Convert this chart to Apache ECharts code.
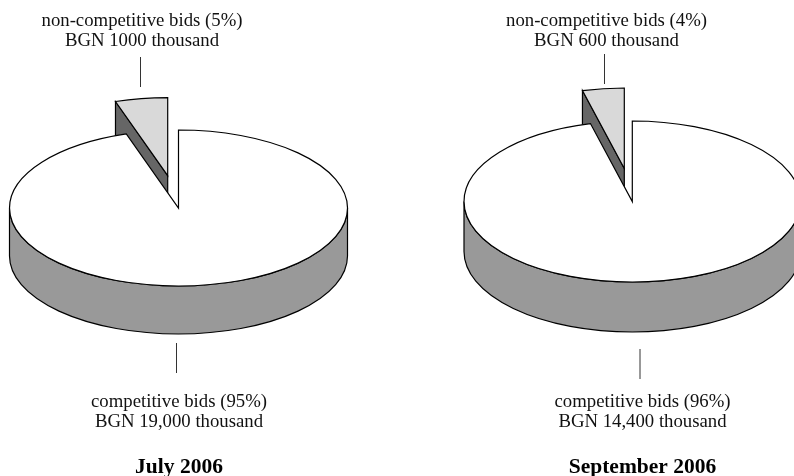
<!DOCTYPE html>
<html>
<head>
<meta charset="utf-8">
<style>html,body{margin:0;padding:0;background:#fff;overflow:hidden}#c{width:794px;height:476px}</style>
<script src="https://cdn.jsdelivr.net/npm/echarts@6/dist/echarts.min.js"></script>
</head>
<body>
<div id="c"></div>
<script>
const categories = ['non-competitive bids', 'competitive bids'];
const periods = ['July 2006', 'September 2006'];
const julyValues = [1000, 19000];
const septemberValues = [600, 14400];
const julyLabels = ['non-competitive bids (5%)\nBGN 1000 thousand', 'competitive bids (95%)\nBGN 19,000 thousand'];
const septemberLabels = ['non-competitive bids (4%)\nBGN 600 thousand', 'competitive bids (96%)\nBGN 14,400 thousand'];

const FONT = '"Liberation Serif", "Times New Roman", serif';
const pies = [
  {cx: 178.5, cy: 208, rx: 169, ry: 78, depth: 48, ox: -10.8, oy: -32.3,
   values: julyValues, labels: julyLabels, period: periods[0],
   topLabel: [142, 11], botLabel: [179, 392], titleAt: [179, 456.5],
   lines: [[140.5, 57, 87], [176.5, 343, 373]]},
  {cx: 632.3, cy: 201.5, rx: 168.3, ry: 80.5, depth: 50, ox: -8, oy: -33,
   values: septemberValues, labels: septemberLabels, period: periods[1],
   topLabel: [606.5, 11], botLabel: [642.5, 392], titleAt: [642.5, 456.5],
   lines: [[604.5, 54, 84], [640, 349, 379]]}
];

function rim(p, cx, cy, t) {
  return [cx + p.rx * Math.sin(t), cy - p.ry * Math.cos(t)];
}
function f(n) { return n.toFixed(2); }

function renderItem(params, api) {
  const p = pies[params.seriesIndex];
  const total = p.values.reduce((a, b) => a + b, 0);
  const isSmall = params.dataIndex === 0;
  const angle = api.value(1) / total * Math.PI * 2;
  const black = {stroke: '#000', lineWidth: 1.2, lineJoin: 'miter'};
  if (isSmall) {
    const cx = p.cx + p.ox, cy = p.cy + p.oy;
    const a = rim(p, cx, cy, -angle);
    const b = rim(p, cx, cy, 0);
    return {type: 'group', children: [
      {type: 'path', shape: {pathData:
        `M${f(a[0])} ${f(a[1])} L${f(cx)} ${f(cy)} L${f(cx)} ${f(cy + p.depth)} L${f(a[0])} ${f(a[1] + p.depth)} Z`},
       style: Object.assign({fill: '#666666'}, black)},
      {type: 'path', shape: {pathData:
        `M${f(cx)} ${f(cy)} L${f(a[0])} ${f(a[1])} A${p.rx} ${p.ry} 0 0 1 ${f(b[0])} ${f(b[1])} Z`},
       style: Object.assign({fill: '#d9d9d9'}, black)}
    ]};
  }
  const {cx, cy, rx, ry, depth} = p;
  const start = rim(p, cx, cy, 0);
  const end = rim(p, cx, cy, angle);
  return {type: 'group', children: [
    {type: 'path', shape: {pathData:
      `M${f(cx + rx)} ${f(cy)} A${rx} ${ry} 0 0 1 ${f(cx - rx)} ${f(cy)} L${f(cx - rx)} ${f(cy + depth)} A${rx} ${ry} 0 0 0 ${f(cx + rx)} ${f(cy + depth)} Z`},
     style: Object.assign({fill: '#999999'}, black)},
    {type: 'path', shape: {pathData:
      `M${f(cx)} ${f(cy)} L${f(start[0])} ${f(start[1])} A${rx} ${ry} 0 1 1 ${f(end[0])} ${f(end[1])} Z`},
     style: Object.assign({fill: '#ffffff'}, black)}
  ]};
}

const graphics = [];
pies.forEach(p => {
  p.lines.forEach(l => graphics.push({type: 'line', silent: true,
    shape: {x1: l[0], y1: l[1], x2: l[0], y2: l[2]}, style: {stroke: '#333', lineWidth: 1}}));
  [[p.topLabel, p.labels[0]], [p.botLabel, p.labels[1]]].forEach(([pos, text]) =>
    graphics.push({type: 'text', silent: true, x: pos[0], y: pos[1],
      style: {text, fill: '#111', font: '18.75px ' + FONT, textAlign: 'center', lineHeight: 20}}));
  graphics.push({type: 'text', silent: true, x: p.titleAt[0], y: p.titleAt[1],
    style: {text: p.period, fill: '#000', font: 'bold 21.5px ' + FONT, textAlign: 'center'}});
});

const chart = echarts.init(document.getElementById('c'), null, {renderer: 'canvas'});
chart.setOption({
  animation: false,
  backgroundColor: '#ffffff',
  graphic: graphics,
  series: pies.map(p => ({
    type: 'custom',
    name: p.period,
    coordinateSystem: 'none',
    renderItem,
    silent: true,
    data: categories.map((c, i) => [c, p.values[i]])
  }))
});
</script>
</body>
</html>
